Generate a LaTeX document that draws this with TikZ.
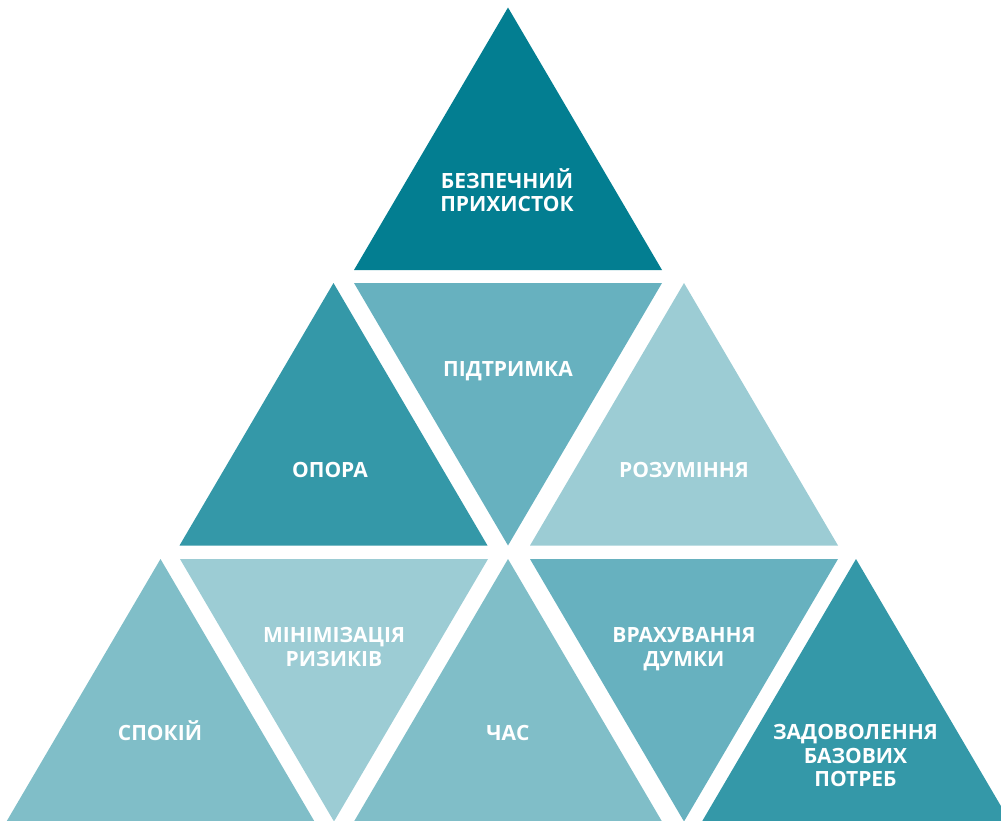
\documentclass[tikz,border=0pt]{standalone}
\usepackage{fontspec}
\setmainfont{Open Sans}
\newfontfamily\lblfont{Open Sans}
\definecolor{cA}{HTML}{037E91}
\definecolor{cB}{HTML}{3498A8}
\definecolor{cC}{HTML}{67B1BF}
\definecolor{cD}{HTML}{9CCCD4}
\definecolor{cE}{HTML}{80BEC8}
\newcommand{\triup}[4]{\fill[#3] (#1,#2) -- ++(154,262.5) -- ++(-308,0) -- cycle;}
\newcommand{\tridown}[4]{\fill[#3] (#1-154,#2) -- ++(308,0) -- ++(-154,262.5) -- cycle;}
\tikzset{lbl/.style={text=white, font=\lblfont\bfseries\fontsize{21}{23.5}\selectfont, align=center, inner sep=0pt, anchor=base}}
\begin{document}
\begin{tikzpicture}[x=1pt,y=-1pt]
\useasboundingbox (0,0) rectangle (1001,820);
\clip (0,0) rectangle (1001,820);
% row 1
\triup{508}{7.5}{cA}{}
% row 2
\triup{333.5}{283}{cB}{}
\tridown{508}{283}{cC}{}
\triup{684}{283}{cD}{}
% row 3
\triup{160.5}{559}{cE}{}
\tridown{334}{559}{cD}{}
\triup{508}{559}{cE}{}
\tridown{684}{559}{cC}{}
\triup{856}{559}{cB}{}
% labels (anchor = baseline of last line)
\node[lbl] (t1) at (507,211.7) {БЕЗПЕЧНИЙ\\ПРИХИСТОК};
\node[lbl] (t2) at (330,477.3) {ОПОРА};
\node[lbl] (t3) at (508,376.7) {ПІДТРИМКА};
\node[lbl] (t4) at (684,477.3) {РОЗУМІННЯ};
\node[lbl] (t5) at (160,740.5) {СПОКІЙ};
\node[lbl] (t6) at (334,666) {МІНІМІЗАЦІЯ\\РИЗИКІВ};
\node[lbl] (t7) at (508,740.5) {ЧАС};
\node[lbl] (t8) at (684,666) {ВРАХУВАННЯ\\ДУМКИ};
\node[lbl] (t9) at (855.5,786.7) {ЗАДОВОЛЕННЯ\\БАЗОВИХ\\ПОТРЕБ};
\end{tikzpicture}
\end{document}
